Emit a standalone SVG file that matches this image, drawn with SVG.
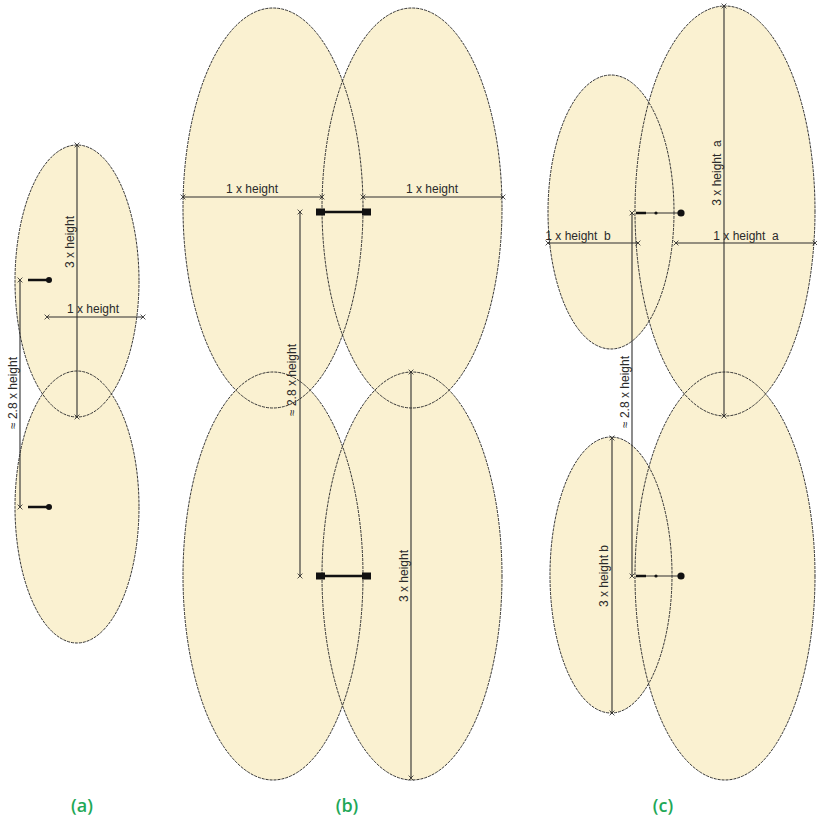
<svg xmlns="http://www.w3.org/2000/svg" width="817" height="821" viewBox="0 0 817 821">
<defs>
<style>
.fill{fill:#faf1d1;stroke:none}
.edge{fill:none;stroke:#333;stroke-width:1;stroke-dasharray:3 1}
.dim{fill:none;stroke:#2e2e2e;stroke-width:1.1}
.dimt{stroke:#2e2e2e;stroke-width:1.1;marker-start:url(#tk);marker-end:url(#tk)}
.bar{stroke:#111;stroke-width:2.5}
.t{font-family:"Liberation Sans",Arial,sans-serif;font-size:12px;fill:#2a2a2a;text-anchor:middle}
.lab{font-family:"Open Sans","Liberation Sans",sans-serif;font-size:18px;font-weight:600;fill:#1fa857;text-anchor:middle}
</style>
<marker id="tk" viewBox="-5 -5 10 10" markerWidth="8" markerHeight="8" markerUnits="userSpaceOnUse" orient="auto">
<path d="M-3,-3 L3,3 M-3,3 L3,-3" stroke="#222" stroke-width="1" fill="none"/>
</marker>
</defs>
<rect width="817" height="821" fill="#ffffff"/>

<g id="fills">
<ellipse class="fill" cx="77" cy="281" rx="62" ry="136"/>
<ellipse class="fill" cx="77" cy="507" rx="62" ry="136"/>
<ellipse class="fill" cx="273" cy="208" rx="90" ry="200"/>
<ellipse class="fill" cx="412" cy="208" rx="90" ry="200"/>
<ellipse class="fill" cx="273" cy="576" rx="90" ry="204"/>
<ellipse class="fill" cx="412" cy="576" rx="90" ry="204"/>
<ellipse class="fill" cx="611" cy="212" rx="63" ry="137"/>
<ellipse class="fill" cx="725" cy="211" rx="90" ry="205"/>
<ellipse class="fill" cx="611" cy="575" rx="61" ry="138"/>
<ellipse class="fill" cx="725" cy="576" rx="90" ry="204"/>
</g>

<g id="a-top"><ellipse class="edge" cx="77" cy="281" rx="62" ry="136"/></g>
<g id="a-bottom"><ellipse class="edge" cx="77" cy="507" rx="62" ry="136"/></g>
<g id="b-top-left"><ellipse class="edge" cx="273" cy="208" rx="90" ry="200"/></g>
<g id="b-top-right"><ellipse class="edge" cx="412" cy="208" rx="90" ry="200"/></g>
<g id="b-bottom-left"><ellipse class="edge" cx="273" cy="576" rx="90" ry="204"/></g>
<g id="b-bottom-right"><ellipse class="edge" cx="412" cy="576" rx="90" ry="204"/></g>
<g id="c-top-left"><ellipse class="edge" cx="611" cy="212" rx="63" ry="137"/></g>
<g id="c-top-right"><ellipse class="edge" cx="725" cy="211" rx="90" ry="205"/></g>
<g id="c-bottom-left"><ellipse class="edge" cx="611" cy="575" rx="61" ry="138"/></g>
<g id="c-bottom-right"><ellipse class="edge" cx="725" cy="576" rx="90" ry="204"/></g>

<g id="connectors">
<line class="dimt" x1="77" y1="145" x2="77" y2="417"/>
<line class="dimt" x1="47" y1="317" x2="143" y2="317"/>
<line class="dimt" x1="20" y1="280" x2="20" y2="507"/>
<line class="bar" x1="28" y1="280" x2="48" y2="280"/>
<circle cx="49" cy="280" r="3" fill="#111"/>
<line class="bar" x1="28" y1="507" x2="48" y2="507"/>
<circle cx="49" cy="507" r="3" fill="#111"/>

<line class="dimt" x1="183" y1="197" x2="322" y2="197"/>
<line class="dimt" x1="363" y1="197" x2="503" y2="197"/>
<line class="dimt" x1="300" y1="212" x2="300" y2="576"/>
<line class="bar" x1="320" y1="212" x2="367" y2="212"/>
<rect x="316" y="208.5" width="9" height="7" fill="#111"/>
<rect x="362" y="208.5" width="9" height="7" fill="#111"/>
<line class="bar" x1="320" y1="576" x2="367" y2="576"/>
<rect x="316" y="572.5" width="9" height="7" fill="#111"/>
<rect x="362" y="572.5" width="9" height="7" fill="#111"/>
<line class="dimt" x1="411" y1="372" x2="411" y2="778"/>

<line class="dimt" x1="724" y1="6" x2="724" y2="416"/>
<line class="dimt" x1="548" y1="243" x2="638" y2="243"/>
<line class="dimt" x1="676" y1="243" x2="815" y2="243"/>
<line class="dimt" x1="632" y1="213" x2="632" y2="576"/>
<line class="dim" x1="636" y1="213" x2="680" y2="213" stroke-width="1.6"/>
<line class="bar" x1="636" y1="213" x2="646" y2="213"/>
<circle cx="656" cy="213" r="1.6" fill="#111"/>
<circle cx="681" cy="213" r="3.6" fill="#111"/>
<line class="dim" x1="636" y1="576" x2="680" y2="576" stroke-width="1.6"/>
<line class="bar" x1="636" y1="576" x2="646" y2="576"/>
<circle cx="656" cy="576" r="1.6" fill="#111"/>
<circle cx="681" cy="576" r="3.6" fill="#111"/>
<line class="dimt" x1="612" y1="438" x2="612" y2="713"/>
</g>

<g id="labels">
<text class="t" transform="translate(74,242) rotate(-90)">3 x height</text>
<text class="t" x="93" y="313">1 x height</text>
<text class="t" transform="translate(17,393) rotate(-90)">≈ 2.8 x height</text>

<text class="t" x="252" y="193">1 x height</text>
<text class="t" x="432" y="193">1 x height</text>
<text class="t" transform="translate(296,380) rotate(-90)">≈ 2.8 x height</text>
<text class="t" transform="translate(408,576) rotate(-90)">3 x height</text>

<text class="t" transform="translate(721,173) rotate(-90)" style="white-space:pre">3 x height  a</text>
<text class="t" x="746" y="240" style="white-space:pre">1 x height  a</text>
<text class="t" x="578" y="240" style="white-space:pre">1 x height  b</text>
<text class="t" transform="translate(629,392) rotate(-90)">≈ 2.8 x height</text>
<text class="t" transform="translate(608,576) rotate(-90)">3 x height b</text>

<text class="lab" x="82" y="812">(a)</text>
<text class="lab" x="347" y="812">(b)</text>
<text class="lab" x="663" y="812">(c)</text>
</g>
</svg>
